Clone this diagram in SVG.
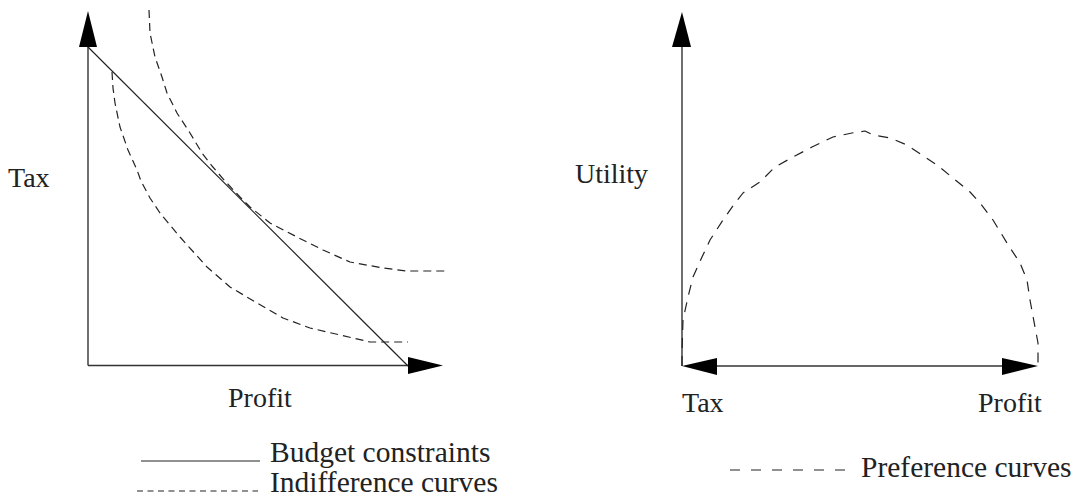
<svg xmlns="http://www.w3.org/2000/svg" width="1078" height="504" viewBox="0 0 1078 504">
<style>
.axis{stroke:#333;stroke-width:1.4;fill:none}
.head{fill:#000;stroke:none}
.budget{stroke:#222;stroke-width:1.2;fill:none}
.indiff{stroke:#222;stroke-width:1.2;fill:none;stroke-dasharray:8 5;stroke-linejoin:round}
.pref{stroke:#222;stroke-width:1.2;fill:none;stroke-dasharray:10 8;stroke-linejoin:round}
.lbl{font-family:"Liberation Serif","Times New Roman",serif;font-size:28px;fill:#222}
.leg{font-family:"Liberation Serif","Times New Roman",serif;font-size:29.5px;fill:#222}
</style>
<rect width="1078" height="504" fill="#fff"/>
<g id="left-chart">
  <g id="left-axes">
    <line class="axis" x1="88" y1="46" x2="88" y2="365.5"/>
    <polygon class="head" points="88,11 79,47 97,47"/>
    <line class="axis" x1="88" y1="365.5" x2="409" y2="365.5"/>
    <polygon class="head" points="408,357 443,365.5 408,374"/>
  </g>
  <g id="budget-line">
    <line class="budget" x1="88" y1="47" x2="408" y2="366"/>
  </g>
  <g id="indifference-inner">
    <polyline class="indiff" points="112,72 113,88 115,103 120,127 128,150 137,170 141,181 150,198 160,213 180,237 207,267 230,287 257,303 283,318 310,328 353,338 370,342 408,342"/>
  </g>
  <g id="indifference-outer">
    <polyline class="indiff" points="149,10 150,33 155,57 162,77 167,93 177,113 190,133 202,153 212,166 225,181 240,197 250,207 270,223 297,237 323,250 350,262 383,268 407,271 445,271"/>
  </g>
  <text class="lbl" x="8" y="187">Tax</text>
  <text class="lbl" x="228" y="407">Profit</text>
</g>
<g id="right-chart">
  <g id="right-axes">
    <line class="axis" x1="682" y1="46" x2="682" y2="366"/>
    <polygon class="head" points="682,12 672,47 691,47"/>
    <line class="axis" x1="715" y1="366" x2="1003" y2="366"/>
    <polygon class="head" points="682,366 717,358 717,375"/>
    <polygon class="head" points="1038,366 1002,358 1002,375"/>
  </g>
  <g id="preference-curve">
    <polyline class="pref" points="682,366 682,353 683,320 688,297 693,277 702,257 710,240 723,220 735,203 743,193 760,182 775,167 793,157 812,147 833,137 852,133 865,131 873,135 890,138 907,145 922,155 937,165 953,178 970,192 980,203 993,220 1007,243 1020,263 1027,280 1030,300 1035,327 1038,343 1038,365"/>
  </g>
  <text class="lbl" x="575" y="183">Utility</text>
  <text class="lbl" x="682" y="412">Tax</text>
  <text class="lbl" x="978" y="412">Profit</text>
</g>
<g id="legend">
  <line class="budget" x1="141" y1="461" x2="260" y2="461"/>
  <text class="leg" x="270" y="462">Budget constraints</text>
  <line stroke="#222" stroke-width="1.2" stroke-dasharray="6 4.5" x1="137" y1="491" x2="258" y2="491"/>
  <text class="leg" x="270" y="492">Indifference curves</text>
  <line stroke="#222" stroke-width="1.2" stroke-dasharray="10 11" x1="730" y1="470" x2="845" y2="470"/>
  <text class="leg" x="861" y="477">Preference curves</text>
</g>
</svg>
